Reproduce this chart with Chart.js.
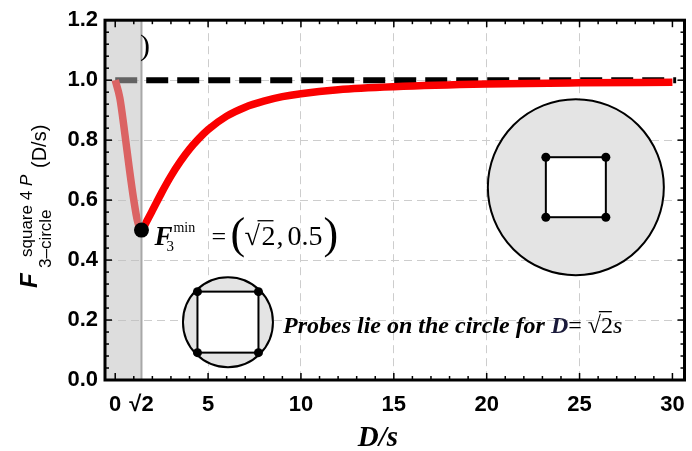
<!DOCTYPE html>
<html>
<head>
<meta charset="utf-8">
<script src="https://cdn.jsdelivr.net/npm/chart.js@4.4.1/dist/chart.umd.min.js"></script>
<style>
html, body { margin: 0; padding: 0; background: #fff; }
</style>
</head>
<body>
<canvas id="fidelityChart" width="692" height="451"></canvas>
<script>
const distances = [0, 0.25, 0.5, 0.75, 1.0, 1.2, 1.414, 1.7, 2.0, 2.5, 3.0, 3.5, 4.0, 4.5, 5.0, 6.0, 7.0, 8.0, 9.0, 10, 12, 15, 20, 25, 30];
const fidelity = [1.0, 0.94, 0.83, 0.71, 0.6, 0.53, 0.5, 0.53, 0.565, 0.625, 0.68, 0.728, 0.77, 0.805, 0.835, 0.88, 0.91, 0.93, 0.945, 0.955, 0.968, 0.978, 0.987, 0.991, 0.993];
const limitD = [0, 30.2];
const limitF = [1, 1];
const minimumD = [1.414];
const minimumF = [0.5];
const xTickValues = [0, 1.414, 5, 10, 15, 20, 25, 30];
const xTickLabels = ['0', '√2', '5', '10', '15', '20', '25', '30'];
const yTickValues = [0, 0.2, 0.4, 0.6, 0.8, 1.0, 1.2];
const yTickLabels = ['0.0', '0.2', '0.4', '0.6', '0.8', '1.0', '1.2'];

const toPoints = (xs, ys) => xs.map((v, i) => ({ x: v, y: ys[i] }));

const serif = '"Liberation Serif", "DejaVu Serif", serif';
const sans = '"Liberation Sans", Arial, sans-serif';

// pieces placed at fixed x offsets from an anchor
const drawPieces = (ctx, ox, oy, parts) => {
    parts.forEach(p => {
        ctx.font = p.font;
        ctx.fillStyle = p.color || '#000';
        ctx.fillText(p.text, ox + p.x, oy + (p.dy || 0));
        if (p.bar) {
            ctx.fillRect(ox + p.x + p.bar[0], oy + p.bar[1], p.bar[2], 1.3);
        }
    });
};

const drawRun = (ctx, x, y, parts) => {
    parts.forEach(p => {
        ctx.font = p.font;
        ctx.fillStyle = p.color || '#000';
        ctx.fillText(p.text, x, y);
        if (p.bar) {
            ctx.fillRect(x + p.bar[0], y + p.bar[1], p.bar[2], 1.3);
        }
        x += ctx.measureText(p.text).width;
    });
};

const probeInset = (ctx, cx, cy, r, half) => {
    ctx.lineWidth = 2;
    ctx.strokeStyle = '#000';
    ctx.fillStyle = '#e4e4e4';
    ctx.beginPath();
    ctx.arc(cx, cy, r, 0, Math.PI * 2);
    ctx.fill();
    ctx.stroke();
    ctx.fillStyle = '#fff';
    ctx.fillRect(cx - half, cy - half, half * 2, half * 2);
    ctx.strokeRect(cx - half, cy - half, half * 2, half * 2);
    ctx.fillStyle = '#000';
    [[-1, -1], [1, -1], [-1, 1], [1, 1]].forEach(([sx, sy]) => {
        ctx.beginPath();
        ctx.arc(cx + sx * half, cy + sy * half, 4.5, 0, Math.PI * 2);
        ctx.fill();
    });
};

const shadePlugin = {
    id: 'shadePlugin',
    afterDatasetDraw(chart, args) {
        if (args.index !== 1) return;
        const { ctx, chartArea: a, scales: { x } } = chart;
        const edge = x.getPixelForValue(minimumD[0]);
        ctx.save();
        ctx.fillStyle = 'rgba(190,190,190,0.52)';
        ctx.fillRect(a.left, a.top, edge - a.left, a.bottom - a.top);
        ctx.strokeStyle = 'rgb(168,168,168)';
        ctx.lineWidth = 2;
        ctx.beginPath();
        ctx.moveTo(edge, a.top);
        ctx.lineTo(edge, a.bottom);
        ctx.stroke();
        ctx.restore();
    }
};

const framePlugin = {
    id: 'framePlugin',
    afterDraw(chart) {
        const { ctx, chartArea: a, scales: { x, y } } = chart;
        ctx.save();

        // inward frame ticks
        ctx.strokeStyle = '#000';
        ctx.lineWidth = 1.5;
        const seg = (x1, y1, x2, y2) => { ctx.beginPath(); ctx.moveTo(x1, y1); ctx.lineTo(x2, y2); ctx.stroke(); };
        for (let v = 0; v <= 30; v++) {
            const px = x.getPixelForValue(v);
            const len = v % 5 === 0 ? 7 : 4;
            seg(px, a.bottom, px, a.bottom - len);
            seg(px, a.top, px, a.top + len);
        }
        for (let i = 0; i <= 30; i++) {
            const py = y.getPixelForValue(i * 0.04);
            const len = i % 5 === 0 ? 7 : 4;
            seg(a.left, py, a.left + len, py);
            seg(a.right, py, a.right - len, py);
        }
        ctx.lineWidth = 3;
        ctx.strokeRect(a.left, a.top, a.right - a.left, a.bottom - a.top);

        // probe geometry insets
        probeInset(ctx, x.getPixelForValue(6.07), y.getPixelForValue(0.193), 45, 30.5);
        probeInset(ctx, x.getPixelForValue(24.8), y.getPixelForValue(0.643), 88, 30);

        ctx.textAlign = 'left';
        ctx.textBaseline = 'alphabetic';

        // leftover panel label
        ctx.fillStyle = '#000';
        ctx.font = '30px ' + serif;
        ctx.fillText(')', 140, 55);

        // minimum annotation
        const mx = x.getPixelForValue(minimumD[0]);
        const my = y.getPixelForValue(minimumF[0]);
        drawPieces(ctx, mx, my + 15, [
            { x: 13, text: 'F', font: 'bold italic 27px ' + serif },
            { x: 25, text: '3', font: '15px ' + serif, dy: 6 },
            { x: 32, text: 'min', font: '14px ' + serif, dy: -13 },
            { x: 70, text: '=', font: '26px ' + serif },
            { x: 89, text: '(', font: '44px ' + serif, dy: 3 },
            { x: 103, text: '√', font: '28px ' + serif, bar: [13, -25, 16] },
            { x: 120, text: '2', font: '28px ' + serif },
            { x: 135, text: ',', font: '28px ' + serif },
            { x: 146, text: '0.5', font: '28px ' + serif },
            { x: 182, text: ')', font: '44px ' + serif, dy: 3 }
        ]);

        // probes caption
        drawRun(ctx, 283, 333, [
            { text: 'Probes lie on the circle for ', font: 'bold italic 24px ' + serif },
            { text: 'D', font: 'bold italic 24px ' + serif, color: '#1a1a3a' },
            { text: '= ', font: '24px ' + serif },
            { text: '√', font: '24px ' + serif, bar: [11, -22, 13] },
            { text: '2', font: '24px ' + serif },
            { text: 's', font: 'italic 24px ' + serif }
        ]);

        // x axis title
        ctx.textAlign = 'center';
        ctx.font = 'bold italic 29px ' + serif;
        ctx.fillText('D/s', 378, 446);

        // y axis title, rotated
        ctx.rotate(-Math.PI / 2);
        ctx.textAlign = 'left';
        ctx.font = 'bold italic 24px ' + sans;
        ctx.fillText('F', -288, 37);
        ctx.font = '17px ' + sans;
        ctx.fillText('3\u2013circle', -268, 51);
        ctx.fillText('square 4 ', -257, 32);
        const sqW = ctx.measureText('square 4 ').width;
        ctx.font = 'italic 17px ' + sans;
        ctx.fillText('P', -257 + sqW, 32);
        ctx.font = '20px ' + sans;
        ctx.fillText('(D/s)', -168, 46);

        ctx.restore();
    }
};

const gridColor = (hidden) => (c) => hidden.includes(c.tick.value) ? 'rgba(0,0,0,0)' : 'rgb(205,205,205)';

new Chart(document.getElementById('fidelityChart'), {
    type: 'scatter',
    data: {
        datasets: [
            {
                label: 'limit',
                data: toPoints(limitD, limitF),
                showLine: true,
                borderColor: '#000',
                borderWidth: 6,
                borderDash: [22, 9],
                pointRadius: 0,
                order: 3
            },
            {
                label: 'F3',
                data: toPoints(distances, fidelity),
                showLine: true,
                borderColor: 'rgb(250,0,0)',
                borderWidth: 7.5,
                borderJoinStyle: 'round',
                cubicInterpolationMode: 'monotone',
                pointRadius: 0,
                order: 2
            },
            {
                label: 'minimum',
                data: toPoints(minimumD, minimumF),
                backgroundColor: '#000',
                borderWidth: 0,
                pointRadius: 7.5,
                order: 1
            }
        ]
    },
    options: {
        responsive: false,
        animation: false,
        devicePixelRatio: 1,
        layout: { padding: { top: 20, right: 6, left: 0, bottom: 0 } },
        plugins: { legend: { display: false }, tooltip: { enabled: false } },
        scales: {
            x: {
                type: 'linear',
                min: -0.55,
                max: 30.65,
                afterBuildTicks: (scale) => { scale.ticks = xTickValues.map(v => ({ value: v })); },
                afterFit: (scale) => {
                    scale.height = 71;
                    scale.paddingLeft = 0;
                    scale.paddingRight = 0;
                },
                ticks: {
                    autoSkip: false,
                    maxRotation: 0,
                    padding: 12,
                    color: '#000',
                    font: { family: sans, size: 22, weight: 'bold' },
                    callback: (v) => xTickLabels[xTickValues.indexOf(v)]
                },
                grid: { color: gridColor([0, 1.414, 30]), lineWidth: 1, drawTicks: false },
                border: { display: false, dash: [8, 5] }
            },
            y: {
                min: 0,
                max: 1.2,
                afterBuildTicks: (scale) => { scale.ticks = yTickValues.map(v => ({ value: v })); },
                afterFit: (scale) => { scale.width = 105; },
                ticks: {
                    padding: 7,
                    color: '#000',
                    font: { family: sans, size: 22, weight: 'bold' },
                    callback: (v) => yTickLabels[yTickValues.indexOf(v)]
                },
                grid: { color: gridColor([0, 1.2]), lineWidth: 1, drawTicks: false },
                border: { display: false, dash: [8, 5] }
            }
        }
    },
    plugins: [shadePlugin, framePlugin]
});
</script>
</body>
</html>
